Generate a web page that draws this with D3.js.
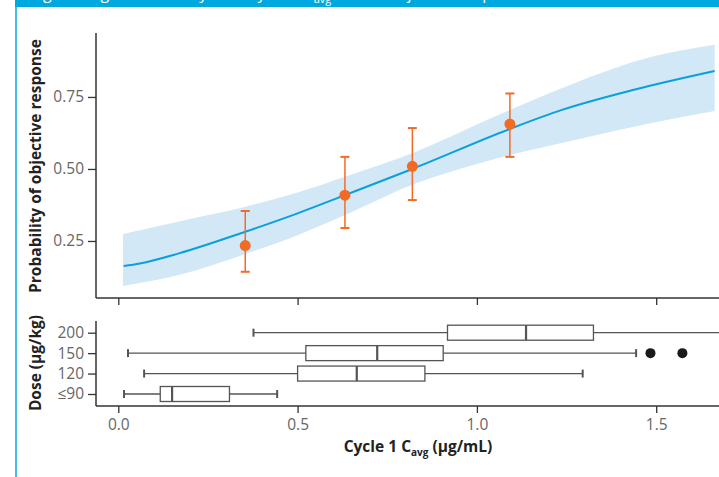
<!DOCTYPE html>
<html>
<head>
<meta charset="utf-8">
<script src="https://cdn.jsdelivr.net/npm/d3@7"></script>
<style>
  body { margin: 0; background: #fff; }
  svg { display: block; font-family: "Open Sans", "Noto Sans", sans-serif; }
</style>
</head>
<body>
<div id="chart"></div>
<script>
// fitted logistic curve and 95% band (Cycle 1 Cavg vs probability)
const curveX = [0.015, 0.06, 0.169, 0.354, 0.5, 0.632, 0.82, 1.092, 1.237, 1.435, 1.663];
const curveY = [0.163, 0.172, 0.207, 0.282, 0.346, 0.409, 0.50, 0.639, 0.705, 0.774, 0.840];
const bandX = [0.013, 0.169, 0.355, 0.5, 0.632, 0.83, 1.05, 1.27, 1.49, 1.663];
const bandHi = [0.274, 0.318, 0.369, 0.418, 0.473, 0.560, 0.682, 0.797, 0.890, 0.931];
const bandLo = [0.094, 0.132, 0.205, 0.270, 0.340, 0.450, 0.535, 0.600, 0.660, 0.701];

// observed response by Cavg bin
const obsX = [0.354, 0.632, 0.820, 1.092];
const obsY = [0.234, 0.409, 0.509, 0.656];
const obsLo = [0.143, 0.295, 0.392, 0.542];
const obsHi = [0.354, 0.542, 0.642, 0.762];

// Cavg distribution by dose
const doses = ["200", "150", "120", "≤90"];
const whiskLo = [0.377, 0.027, 0.072, 0.016];
const q1 = [0.918, 0.523, 0.500, 0.117];
const med = [1.137, 0.722, 0.665, 0.150];
const q3 = [1.325, 0.906, 0.855, 0.310];
const whiskHi = [1.75, 1.444, 1.295, 0.443];
const outliers = [[], [1.484, 1.573], [], []];

const xTicks = [0, 0.5, 1.0, 1.5];
const yTicks = [0.25, 0.5, 0.75];

const W = 719, H = 477;
const svg = d3.select("#chart").append("svg").attr("width", W).attr("height", H);

// banner + side rule
svg.append("rect").attr("x", 15).attr("y", 0).attr("width", W - 15).attr("height", 7).attr("fill", "#00a8e0");
svg.append("line").attr("x1", 16).attr("x2", 16).attr("y1", 0).attr("y2", H)
    .attr("stroke", "#00a8e0").attr("stroke-width", 1.5);
const bt = svg.append("text").attr("x", 25).attr("y", -1).attr("fill", "#fff").attr("font-size", 16);
bt.append("tspan").text("Logistic regression analysis of cycle 1 C");
bt.append("tspan").attr("font-size", 11).attr("dy", 4).text("avg");
bt.append("tspan").attr("dy", -4).text(" versus objective response rate");

const x = d3.scaleLinear().domain([0, 1.5]).range([118.3, 656.2]);
const y = d3.scaleLinear().domain([0.052, 0.972]).range([298, 33]);

const gray = "#666";
const fs = 15.5;

// band
const band = bandX.map((v, i) => ({ x: v, lo: bandLo[i], hi: bandHi[i] }));
svg.append("path").datum(band)
    .attr("d", d3.area().curve(d3.curveMonotoneX).x(d => x(d.x)).y0(d => y(d.lo)).y1(d => y(d.hi)))
    .attr("fill", "#d2e8f6");

// fitted line
svg.append("path").datum(curveX.map((v, i) => [v, curveY[i]]))
    .attr("d", d3.line().curve(d3.curveMonotoneX).x(d => x(d[0])).y(d => y(d[1])))
    .attr("fill", "none").attr("stroke", "#0aa0dc").attr("stroke-width", 2);

// observed points with error bars
const orange = "#f26b26";
const obs = svg.append("g").selectAll("g").data(obsX).enter().append("g");
obs.append("line").attr("x1", d => x(d)).attr("x2", d => x(d))
    .attr("y1", (d, i) => y(obsLo[i])).attr("y2", (d, i) => y(obsHi[i]))
    .attr("stroke", orange).attr("stroke-width", 1.5);
[obsLo, obsHi].forEach(arr => {
    obs.append("line").attr("x1", d => x(d) - 4.5).attr("x2", d => x(d) + 4.5)
        .attr("y1", (d, i) => y(arr[i])).attr("y2", (d, i) => y(arr[i]))
        .attr("stroke", orange).attr("stroke-width", 2);
});
obs.append("circle").attr("cx", d => x(d)).attr("cy", (d, i) => y(obsY[i])).attr("r", 5.5).attr("fill", orange);

// top axes
const yAx = svg.append("g").attr("transform", "translate(96,0)")
    .call(d3.axisLeft(y).tickValues(yTicks).tickFormat(d3.format(".2f")).tickSize(8).tickPadding(4));
yAx.select(".domain").attr("d", `M0,${y.range()[1]}V${y.range()[0]}`);
const xTop = svg.append("g").attr("transform", "translate(0,298)")
    .call(d3.axisBottom(x).tickValues(xTicks).tickFormat("").tickSize(7));
xTop.select(".domain").attr("d", `M96,0H${W}`);

// bottom panel
const yb = d3.scalePoint().domain(doses).range([332.7, 394]);
const bh = 15;
const boxes = svg.append("g").selectAll("g").data(doses).enter().append("g");
boxes.append("line").attr("x1", (d, i) => x(whiskLo[i])).attr("x2", (d, i) => x(whiskHi[i]))
    .attr("y1", d => yb(d)).attr("y2", d => yb(d)).attr("stroke", "#555").attr("stroke-width", 1.3);
[whiskLo, whiskHi].forEach(arr => {
    boxes.append("line").attr("x1", (d, i) => x(arr[i])).attr("x2", (d, i) => x(arr[i]))
        .attr("y1", d => yb(d) - 4).attr("y2", d => yb(d) + 4).attr("stroke", "#555").attr("stroke-width", 2);
});
boxes.append("rect").attr("x", (d, i) => x(q1[i])).attr("width", (d, i) => x(q3[i]) - x(q1[i]))
    .attr("y", d => yb(d) - bh / 2).attr("height", bh)
    .attr("fill", "#fff").attr("stroke", "#555").attr("stroke-width", 1.3);
boxes.append("line").attr("x1", (d, i) => x(med[i])).attr("x2", (d, i) => x(med[i]))
    .attr("y1", d => yb(d) - bh / 2).attr("y2", d => yb(d) + bh / 2).attr("stroke", "#555").attr("stroke-width", 2.2);
boxes.each(function(d, i) {
    d3.select(this).selectAll("circle").data(outliers[i]).enter().append("circle")
        .attr("cx", v => x(v)).attr("cy", yb(d)).attr("r", 5).attr("fill", "#1a1a1a");
});

const yBot = svg.append("g").attr("transform", "translate(96,0)")
    .call(d3.axisLeft(yb).tickSize(8).tickPadding(4));
yBot.select(".domain").attr("d", "M0,321V406");
const xBot = svg.append("g").attr("transform", "translate(0,406)")
    .call(d3.axisBottom(x).tickValues(xTicks).tickFormat(d3.format(".1f")).tickSize(7).tickPadding(6));
xBot.select(".domain").attr("d", `M96,0H${W}`);

svg.selectAll(".tick text").attr("fill", gray).attr("font-size", fs).attr("font-family", "'Open Sans', sans-serif");
svg.selectAll(".tick line").attr("stroke", "#333").attr("stroke-width", 1.3);
svg.selectAll(".domain").attr("stroke", "#333").attr("stroke-width", 1.5);

// titles
svg.append("text").attr("transform", "translate(41,166) rotate(-90)").attr("text-anchor", "middle")
    .attr("font-size", fs).attr("font-weight", "bold").attr("fill", "#222").text("Probability of objective response");
svg.append("text").attr("transform", "translate(41,363) rotate(-90)").attr("text-anchor", "middle")
    .attr("font-size", fs).attr("font-weight", "bold").attr("fill", "#222").text("Dose (μg/kg)");
const xt = svg.append("text").attr("x", 418).attr("y", 452).attr("text-anchor", "middle")
    .attr("font-size", fs).attr("font-weight", "bold").attr("fill", "#222");
xt.append("tspan").text("Cycle 1 C");
xt.append("tspan").attr("font-size", 10).attr("dy", 4).text("avg");
xt.append("tspan").attr("dy", -4).text(" (μg/mL)");
</script>
</body>
</html>
